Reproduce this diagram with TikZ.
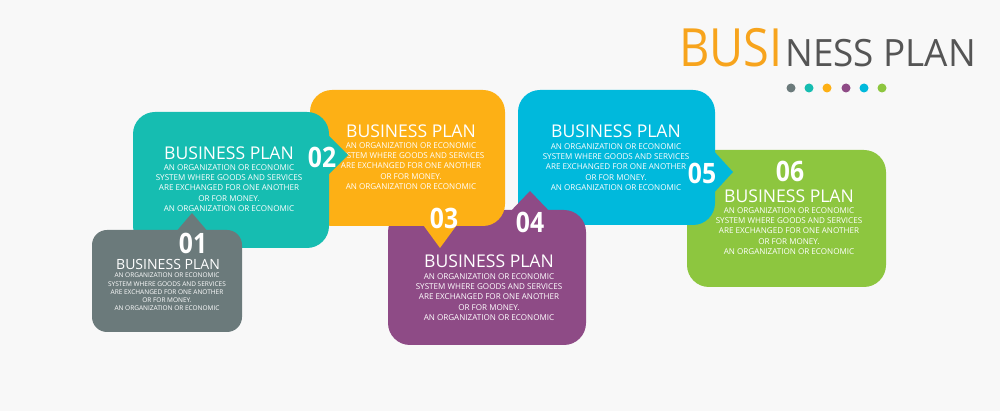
\documentclass[tikz,border=0pt]{standalone}
\usepackage{fontspec}
\setmainfont{Open Sans}
\definecolor{bg}{HTML}{F8F8F8}
\definecolor{cgray}{HTML}{6B7A7B}
\definecolor{cteal}{HTML}{16BDB1}
\definecolor{corange}{HTML}{FDB015}
\definecolor{cpurple}{HTML}{8E4B86}
\definecolor{cblue}{HTML}{00B9DC}
\definecolor{cgreen}{HTML}{8DC63F}
\definecolor{torange}{HTML}{F7A41D}
\definecolor{tgray}{HTML}{555555}
\newcommand\numtxt[1]{\scalebox{0.88}[1]{#1}}
\tikzset{
  ttl/.style={text=white, font=\fontsize{10}{12}\selectfont, inner sep=0pt},
  bdy/.style={text=white, align=center, font=\fontsize{4.6}{5.8}\selectfont, inner sep=0pt},
  ttlsm/.style={text=white, font=\fontsize{8}{10}\selectfont, inner sep=0pt},
  bdysm/.style={text=white, align=center, font=\fontsize{3.7}{4.65}\selectfont, inner sep=0pt},
  num/.style={text=white, font=\bfseries\fontsize{16}{16}\selectfont, inner sep=0pt},
  boxbig/.style={rounded corners=0.44cm},
  boxsm/.style={rounded corners=0.3cm},
  dot/.style={circle, minimum size=0.18cm, inner sep=0pt},
}
\newcommand\bodytext{AN ORGANIZATION OR ECONOMIC\\SYSTEM WHERE GOODS AND SERVICES\\ARE EXCHANGED FOR ONE ANOTHER\\OR FOR MONEY.\\AN ORGANIZATION OR ECONOMIC}
\begin{document}
\begin{tikzpicture}[x=0.02cm,y=-0.02cm]
\fill[bg] (0,0) rectangle (1000,411);
\useasboundingbox (0,0) rectangle (1000,411);

% title
\node[inner sep=0pt, anchor=base east, text=torange, font=\fontsize{30}{30}\selectfont] (tbusi) at (783,67) {\scalebox{0.89}[1]{BUSI}};
\node[inner sep=0pt, anchor=base west, text=tgray, font=\fontsize{21.4}{22}\selectfont] (tness) at (785,67) {\scalebox{0.98}[1]{NESS PLAN}};
\node[dot, fill=cgray]   (d1) at (791,88) {};
\node[dot, fill=cteal]   (d2) at (809,88) {};
\node[dot, fill=corange] (d3) at (827,88) {};
\node[dot, fill=cpurple] (d4) at (846,88) {};
\node[dot, fill=cblue]   (d5) at (864,88) {};
\node[dot, fill=cgreen]  (d6) at (882,88) {};

% box 6 green
\fill[cgreen, boxbig] (687,150) rectangle (886,287);
\node[num] (n6) at (790,171) {\numtxt{06}};
\node[ttl] (t6) at (789,196) {BUSINESS PLAN};
\node[bdy] (b6) at (789,231) {\bodytext};

% box 5 blue
\fill[cblue, boxbig] (518,90) rectangle (715,225);
\fill[cblue] (711,148) -- (733,172) -- (711,196) -- cycle;
\node[ttl] (t5) at (616,131) {BUSINESS PLAN};
\node[bdy] (b5) at (616,167) {\bodytext};
\node[num] (n5) at (702,173) {\numtxt{05}};

% box 4 purple
\fill[cpurple, boxbig] (388,210) rectangle (586,345);
\fill[cpurple] (508,214) -- (530,191) -- (552,214) -- cycle;
\node[num] (n4) at (530,222) {\numtxt{04}};
\node[ttl] (t4) at (489,261) {BUSINESS PLAN};
\node[bdy] (b4) at (489,297) {\bodytext};

% box 3 orange
\fill[corange, boxbig] (310,90) rectangle (505,226);
\fill[corange] (421,222) -- (440,248) -- (459,222) -- cycle;
\node[ttl] (t3) at (411,131) {BUSINESS PLAN};
\node[bdy] (b3) at (411,166) {\bodytext};
\node[num] (n3) at (444,218) {\numtxt{03}};

% box 2 teal
\fill[cteal, boxbig] (133,112) rectangle (329,248);
\fill[cteal] (325,132) -- (348,155) -- (325,178) -- cycle;
\node[ttl] (t2) at (229,153) {BUSINESS PLAN};
\node[bdy] (b2) at (229,188) {\bodytext};
\node[num] (n2) at (322,157) {\numtxt{02}};

% box 1 gray
\fill[cgray, boxsm] (92,230) rectangle (242,332);
\fill[cgray] (175,233) -- (192,213) -- (209,233) -- cycle;
\node[num] (n1) at (193,243) {\numtxt{01}};
\node[ttlsm] (t1) at (168,264) {BUSINESS PLAN};
\node[bdysm] (b1) at (167,292) {\bodytext};
\end{tikzpicture}
\end{document}
